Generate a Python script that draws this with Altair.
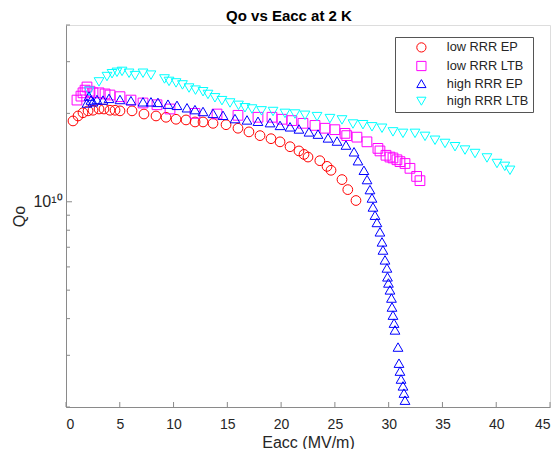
import altair as alt
import pandas as pd

series_names = ["low RRR EP", "low RRR LTB", "high RRR EP", "high RRR LTB"]
series_colors = ["#ff0000", "#ff00ff", "#0000ff", "#00ffff"]
series_shapes = ["circle", "square", "triangle-up", "triangle-down"]

low_ep_E = [0.65, 1.12, 1.58, 2.05, 2.51, 3.07, 3.53, 4.09, 4.56, 5.02, 6.14, 7.25, 8.37, 9.30,
            10.23, 11.16, 12.0, 12.74, 13.67, 14.88, 15.99, 17.01, 18.04, 19.06, 19.9, 20.83,
            21.66, 22.13, 22.5, 23.6, 24.27, 24.64, 25.66, 26.2, 26.96]
low_ep_Q = [1.885e10, 1.96e10, 2.01e10, 2.04e10, 2.05e10, 2.07e10, 2.07e10, 2.05e10, 2.05e10,
            2.04e10, 2.04e10, 1.99e10, 1.96e10, 1.94e10, 1.91e10, 1.90e10, 1.87e10, 1.87e10,
            1.85e10, 1.83e10, 1.78e10, 1.73e10, 1.68e10, 1.64e10, 1.60e10, 1.54e10, 1.49e10,
            1.45e10, 1.42e10, 1.38e10, 1.32e10, 1.28e10, 1.19e10, 1.10e10, 1.01e10]

low_ltb_E = [1.02, 1.39, 1.58, 1.77, 1.95, 2.23, 2.51, 3.07, 3.63, 4.09, 5.02, 6.04, 7.16, 8.46,
             9.67, 11.99, 14.04, 15.99, 17.85, 19.15, 20.08, 21.0, 22.03, 23.15, 24.08, 25.0,
             25.94, 26.1, 27.05, 27.98, 29.0, 29.19, 29.75, 30.12, 30.4, 30.77, 31.05, 31.52,
             31.98, 32.6, 32.91]
low_ltb_Q = [2.22e10, 2.29e10, 2.35e10, 2.40e10, 2.46e10, 2.38e10, 2.35e10, 2.35e10, 2.33e10,
             2.31e10, 2.28e10, 2.22e10, 2.17e10, 2.14e10, 2.07e10, 2.00e10, 1.99e10, 1.97e10,
             1.94e10, 1.94e10, 1.91e10, 1.89e10, 1.85e10, 1.82e10, 1.78e10, 1.76e10, 1.71e10,
             1.68e10, 1.66e10, 1.60e10, 1.52e10, 1.49e10, 1.44e10, 1.42e10, 1.41e10, 1.39e10,
             1.37e10, 1.35e10, 1.30e10, 1.22e10, 1.18e10]

high_ep_E = [1.95, 2.14, 2.32, 2.51, 2.88, 3.44, 4.0, 5.02, 6.04, 7.16, 7.9, 8.55, 9.48, 10.32,
             11.25, 11.99, 12.74, 13.67, 14.6, 15.71, 16.83, 17.85, 18.97, 19.9, 20.83, 21.66,
             22.59, 23.43, 24.36, 25.2, 26.03, 26.78, 27.15, 27.7, 27.99, 28.26, 28.45, 28.54,
             28.73, 28.91, 29.19, 29.38, 29.47, 29.66, 29.84, 29.89, 29.98, 30.12, 30.26, 30.31,
             30.4, 30.5, 30.59, 30.87, 30.96, 31.05, 31.15, 31.33, 31.42, 31.52]
high_ep_Q = [2.17e10, 2.29e10, 2.22e10, 2.19e10, 2.23e10, 2.22e10, 2.25e10, 2.23e10, 2.21e10,
             2.19e10, 2.19e10, 2.18e10, 2.15e10, 2.13e10, 2.09e10, 2.06e10, 2.03e10, 2.00e10,
             1.97e10, 1.92e10, 1.90e10, 1.88e10, 1.86e10, 1.82e10, 1.80e10, 1.77e10, 1.73e10,
             1.70e10, 1.65e10, 1.61e10, 1.56e10, 1.48e10, 1.38e10, 1.28e10, 1.19e10, 1.10e10,
             1.03e10, 9.6e9, 9.0e9, 8.5e9, 7.9e9, 7.3e9, 6.85e9, 6.34e9, 5.95e9, 5.55e9, 5.29e9,
             5.01e9, 4.70e9, 4.38e9, 4.11e9, 3.86e9, 3.66e9, 3.20e9, 2.82e9, 2.65e9, 2.49e9,
             2.36e9, 2.23e9, 2.11e9]

high_ltb_E = [2.14, 3.07, 3.81, 4.28, 4.74, 5.21, 5.86, 6.42, 7.16, 7.9, 9.16, 9.58, 10.23, 10.83,
              11.44, 12.04, 12.74, 13.2, 13.85, 14.5, 15.25, 16.04, 16.64, 17.29, 18.18, 19.25,
              20.36, 21.29, 22.22, 23.34, 24.54, 25.66, 26.68, 27.61, 28.45, 29.38, 30.4, 31.33,
              32.45, 33.38, 34.31, 35.24, 36.17, 37.1, 38.03, 39.14, 40.07, 40.8, 41.28]
high_ltb_Q = [2.38e10, 2.56e10, 2.67e10, 2.73e10, 2.76e10, 2.78e10, 2.74e10, 2.69e10, 2.74e10,
              2.70e10, 2.62e10, 2.57e10, 2.54e10, 2.50e10, 2.44e10, 2.40e10, 2.37e10, 2.32e10,
              2.26e10, 2.21e10, 2.17e10, 2.13e10, 2.09e10, 2.07e10, 2.04e10, 2.03e10, 2.00e10,
              1.99e10, 1.97e10, 1.95e10, 1.92e10, 1.90e10, 1.84e10, 1.83e10, 1.80e10, 1.78e10,
              1.73e10, 1.71e10, 1.71e10, 1.67e10, 1.62e10, 1.58e10, 1.54e10, 1.50e10, 1.46e10,
              1.41e10, 1.35e10, 1.32e10, 1.28e10]

x_ticks = [0, 5, 10, 15, 20, 25, 30, 35, 40, 45]
y_minor_ticks = [2e9, 3e9, 4e9, 5e9, 6e9, 7e9, 8e9, 9e9, 2e10, 3e10, 4e10]
y_major_ticks = [1e10]

rows = []
for name, E, Q in zip(series_names,
                      [low_ep_E, low_ltb_E, high_ep_E, high_ltb_E],
                      [low_ep_Q, low_ltb_Q, high_ep_Q, high_ltb_Q]):
    for e, q in zip(E, Q):
        rows.append({"series": name, "E": e, "Q": q})
df = pd.DataFrame(rows)

W, H = 484, 382
FONT = "Liberation Sans"
TXT = "#262626"
AX = "#8a8a8a"

xs = alt.Scale(domain=[0, 45], nice=False, zero=False)
ys = alt.Scale(type="log", domain=[2e9, 4e10], nice=False)

x_axis = alt.Axis(values=x_ticks, title="Eacc (MV/m)", ticks=False, grid=False,
                  labelFont=FONT, labelFontSize=14, labelColor=TXT, labelPadding=10,
                  titleFont=FONT, titleFontSize=16, titleFontWeight="normal", titleColor=TXT,
                  titlePadding=3, domainColor=AX, domainWidth=1)
y_axis = alt.Axis(values=y_minor_ticks + y_major_ticks, title="Qo", ticks=False, grid=False,
                  labelExpr="datum.value == 10000000000 ? '10¹⁰' : ''",
                  labelFont=FONT, labelFontSize=16, labelColor=TXT, labelPadding=4,
                  titleFont=FONT, titleFontSize=16, titleFontWeight="normal", titleColor=TXT,
                  titlePadding=5, domainColor=AX, domainWidth=1)

legend = alt.Legend(title=None, orient="none", legendX=329, legendY=12,
                    fillColor="white", strokeColor="#555555", padding=4,
                    labelFont=FONT, labelFontSize=12.8, labelColor=TXT,
                    symbolSize=85, symbolStrokeWidth=1, symbolFillColor="transparent",
                    rowPadding=3.6, symbolOffset=16, labelOffset=19)

points = alt.Chart(df).mark_point(filled=False, strokeWidth=1, size=95, opacity=1).encode(
    x=alt.X("E:Q", scale=xs, axis=x_axis),
    y=alt.Y("Q:Q", scale=ys, axis=y_axis),
    color=alt.Color("series:N", scale=alt.Scale(domain=series_names, range=series_colors),
                    legend=legend),
    shape=alt.Shape("series:N", scale=alt.Scale(domain=series_names, range=series_shapes),
                    legend=legend),
)

ymin_df = pd.DataFrame({"Q": y_minor_ticks})
ymaj_df = pd.DataFrame({"Q": y_major_ticks})
xt_df = pd.DataFrame({"E": x_ticks})

ymin_rules = alt.Chart(ymin_df).mark_rule(color=AX, strokeWidth=1).encode(
    y=alt.Y("Q:Q", scale=ys, axis=y_axis), x=alt.value(0), x2=alt.value(4))
ymaj_rules = alt.Chart(ymaj_df).mark_rule(color=AX, strokeWidth=1).encode(
    y=alt.Y("Q:Q", scale=ys, axis=y_axis), x=alt.value(0), x2=alt.value(6))
x_rules = alt.Chart(xt_df).mark_rule(color=AX, strokeWidth=1).encode(
    x=alt.X("E:Q", scale=xs, axis=x_axis), y=alt.value(H), y2=alt.value(H - 5))

chart = alt.layer(points, ymin_rules, ymaj_rules, x_rules).properties(
    width=W, height=H,
    title=alt.TitleParams("Qo vs Eacc at 2 K", font=FONT, fontSize=15, fontWeight="bold",
                          color="#000000", anchor="middle", dx=-19, offset=1),
    autosize="none",
    padding={"left": 58, "top": 17, "right": 1, "bottom": 42},
).configure_view(stroke=None).configure(background="white")

chart.save("out.html", embed_options={"renderer": "svg", "actions": False})
